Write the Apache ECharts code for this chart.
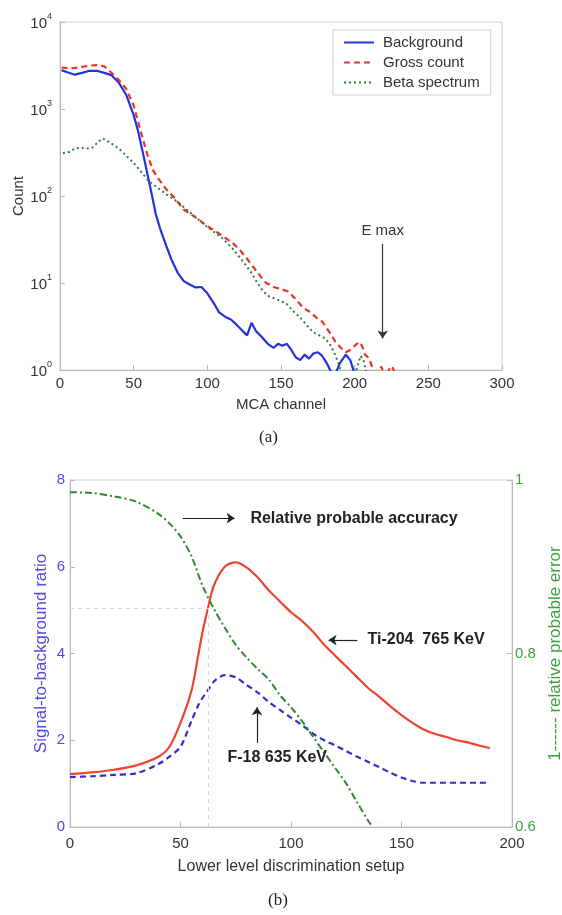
<!DOCTYPE html>
<html><head><meta charset="utf-8">
<script src="https://cdn.jsdelivr.net/npm/echarts@6/dist/echarts.min.js"></script>
<style>html,body{margin:0;padding:0;background:#fff}#c{width:562px;height:915px}</style>
</head><body><div id="c"></div><script>
// ---------- (a) MCA spectra ----------
const bgChannel = [1,5,10,15,20,25,30,35,40,45,50,53,56,59,62,65,68,72,76,80,84,88,92,96,100,104,108,112,116,120,124,127,130,133,137,141,145,148,151,154,157,160,163,166,169,172,175,178,181,184,187,190,194,197,200,202];
const bgCount = [2800,2650,2480,2600,2750,2750,2600,2450,2000,1450,850,560,330,190,110,62,42,27,18,13,10.5,9.6,8.9,9.0,7.6,6.0,4.6,4.1,3.8,3.3,2.8,2.5,3.5,2.8,2.4,2.0,1.8,2.0,1.9,2.0,1.7,1.4,1.3,1.5,1.35,1.55,1.6,1.45,1.2,0.95,0.9,1.2,1.5,1.3,0.9,0.7];
const grossChannel = [1,5,10,15,20,25,30,34,40,45,50,54,59,63,66,72,77,84,90,95,100,105,110,117,122,126,131,136,140,145,150,155,160,165,170,174,178,183,187,190,194,197,200,203,205,207,209,211,213,216,218,220,222,224,226,228];
const grossCount = [3000,2950,2950,3050,3150,3200,3100,2700,2150,1700,1100,620,310,200,165,120,98,70,60,52,45,40,35,29,24,20,15.4,12,10,9,8.5,8,6.5,5.2,4.6,4.0,3.6,2.7,2.1,1.85,1.6,1.7,1.9,2.1,1.9,1.5,1.4,1.2,0.9,0.8,1.1,0.9,0.8,1.1,1.05,0.8];
const betaChannel = [2,6,10,14,18,22,26,29,32,36,40,45,50,55,60,66,72,80,88,95,100,110,117,125,130,134,138,142,146,150,154,158,163,168,172,176,180,183,186,189,191,195,199,202,204,206,208,210];
const betaCount = [310,320,350,360,350,360,420,460,430,390,350,290,240,190,150,125,105,85,65,52,44,33,25,17,13,10,8,7,6.6,6.2,5.7,4.8,4.0,3.2,2.7,2.5,2.3,2.0,1.6,1.2,0.9,0.7,0.8,1.1,1.45,1.3,0.9,0.7];

// ---------- (b) discrimination setup ----------
const lldSetup = [0,10,20,30,40,45,50,55,58,60,62,65,70,75,80,85,90,95,100,105,110,115,120,125,130,135,140,145,150,155,160,165,170,175,180,185,190];
const tiRatio = [1.22,1.26,1.32,1.42,1.62,1.85,2.4,3.15,3.95,4.5,4.95,5.55,6.0,6.1,5.98,5.75,5.45,5.2,4.95,4.75,4.5,4.2,3.95,3.7,3.45,3.2,3.0,2.78,2.58,2.4,2.25,2.15,2.08,2.0,1.95,1.88,1.82];
const fRatio = [1.15,1.17,1.2,1.24,1.45,1.62,1.85,2.45,2.8,2.98,3.12,3.35,3.5,3.45,3.27,3.1,2.88,2.7,2.52,2.35,2.15,2.0,1.88,1.75,1.62,1.5,1.38,1.25,1.14,1.06,1.02,1.02,1.02,1.02,1.02,1.02,1.02];
const accSetup = [0,10,20,30,40,45,50,55,60,65,70,75,80,85,90,95,100,105,110,115,120,125,130,135,137];
const accuracy = [0.986,0.985,0.981,0.975,0.961,0.95,0.935,0.912,0.878,0.852,0.83,0.81,0.795,0.782,0.77,0.752,0.738,0.722,0.704,0.686,0.668,0.65,0.628,0.607,0.6];

const pairs = (xs, ys) => xs.map((x, i) => [x, ys[i]]);

const font = 'Liberation Sans, Arial, sans-serif';
const axisGray = '#b8b8b8';
const txt = '#333';
const bBlue = '#4b4be0';
const bGreen = '#3f9f3f';

const chart = echarts.init(document.getElementById('c'), null, {renderer: 'canvas'});
chart.setOption({
  animation: false,
  textStyle: {fontFamily: font},
  grid: [
    {left: 60, top: 22, width: 442, height: 348, show: true, borderColor: '#d0d0d0', borderWidth: 1, outerBoundsMode: 'none', containLabel: false},
    {left: 70, top: 480, width: 442, height: 347, show: true, borderColor: '#d0d0d0', borderWidth: 1, outerBoundsMode: 'none', containLabel: false}
  ],
  legend: {
    data: ['Background', 'Gross count', 'Beta spectrum'],
    orient: 'vertical', left: 333, top: 30,
    itemWidth: 30, itemHeight: 10, itemGap: 5,
    itemStyle: {opacity: 0},
    borderColor: '#cfcfcf', borderWidth: 1, padding: [5, 11, 5, 10],
    backgroundColor: '#fff',
    textStyle: {fontSize: 15, color: txt, fontFamily: font, padding: [0, 0, 0, 4]}
  },
  xAxis: [
    {gridIndex: 0, type: 'value', min: 0, max: 300, interval: 50,
     name: 'MCA channel', nameLocation: 'middle', nameGap: 27, nameMoveOverlap: false,
     nameTextStyle: {fontSize: 15, color: txt},
     axisLine: {lineStyle: {color: axisGray}}, axisTick: {inside: true, lineStyle: {color: axisGray}},
     axisLabel: {fontSize: 15, color: txt, margin: 6}, splitLine: {show: false}},
    {gridIndex: 1, type: 'value', min: 0, max: 200, interval: 50,
     name: 'Lower level discrimination setup', nameLocation: 'middle', nameGap: 32, nameMoveOverlap: false,
     nameTextStyle: {fontSize: 16, color: txt},
     axisLine: {lineStyle: {color: axisGray}}, axisTick: {inside: true, lineStyle: {color: axisGray}},
     axisLabel: {fontSize: 15, color: txt, margin: 9}, splitLine: {show: false}}
  ],
  yAxis: [
    {gridIndex: 0, type: 'log', logBase: 10, min: 1, max: 10000,
     name: 'Count', nameLocation: 'middle', nameGap: 34, nameRotate: 90, nameMoveOverlap: false,
     nameTextStyle: {fontSize: 15, color: txt},
     axisLine: {show: true, lineStyle: {color: axisGray}}, axisTick: {show: true, inside: true, lineStyle: {color: axisGray}},
     minorTick: {show: false}, splitLine: {show: false},
     axisLabel: {margin: 8, color: txt,
       formatter: v => '{b|10}{s|' + Math.round(Math.log10(v)) + '}',
       rich: {b: {fontSize: 15, color: txt, fontFamily: font, verticalAlign: 'bottom'},
              s: {fontSize: 9, color: txt, fontFamily: font, verticalAlign: 'top', padding: [0, 0, 10, 0]}}}},
    {gridIndex: 1, type: 'value', min: 0, max: 8, interval: 2, position: 'left',
     name: 'Signal-to-background ratio', nameLocation: 'middle', nameGap: 20, nameRotate: 90, nameMoveOverlap: false,
     nameTextStyle: {fontSize: 17, color: bBlue},
     axisLine: {show: true, lineStyle: {color: axisGray}}, axisTick: {show: true, inside: true, lineStyle: {color: axisGray}},
     axisLabel: {fontSize: 15, color: bBlue, margin: 5}, splitLine: {show: false}},
    {gridIndex: 1, type: 'value', min: 0.6, max: 1, interval: 0.2, position: 'right',
     name: '1------ relative probable error', nameLocation: 'middle', nameGap: 35, nameRotate: 90, nameMoveOverlap: false,
     nameTextStyle: {fontSize: 17, color: bGreen},
     axisLine: {show: true, lineStyle: {color: axisGray}}, axisTick: {show: true, inside: true, lineStyle: {color: axisGray}},
     axisLabel: {fontSize: 15, color: bGreen, margin: 3, formatter: v => (Math.abs(v - 1) < 1e-9 ? '1' : v.toFixed(1))},
     splitLine: {show: false}}
  ],
  series: [
    {name: 'Background', type: 'line', xAxisIndex: 0, yAxisIndex: 0, showSymbol: false, symbol: 'none',
     data: pairs(bgChannel, bgCount), lineStyle: {color: '#2233dd', width: 2.2}, itemStyle: {color: '#2233dd'}},
    {name: 'Gross count', type: 'line', xAxisIndex: 0, yAxisIndex: 0, showSymbol: false, symbol: 'none',
     data: pairs(grossChannel, grossCount), lineStyle: {color: '#e8342a', width: 2.2, type: [6, 4]}, itemStyle: {color: '#e8342a'},
     markLine: {silent: true, symbol: ['none', 'arrow'], symbolSize: 8,
       lineStyle: {color: '#333', width: 1.2, type: 'solid'},
       label: {show: true, position: 'start', formatter: 'E max', fontSize: 15, color: txt, distance: 6},
       data: [[{coord: [219, 28]}, {coord: [219, 2.3]}]]}},
    {name: 'Beta spectrum', type: 'line', xAxisIndex: 0, yAxisIndex: 0, showSymbol: false, symbol: 'none',
     data: pairs(betaChannel, betaCount), lineStyle: {color: '#2f7f3f', width: 2, type: [2, 3]}, itemStyle: {color: '#2f7f3f'}},

    {name: 'Ti-204', type: 'line', xAxisIndex: 1, yAxisIndex: 1, showSymbol: false, symbol: 'none', smooth: 0.3,
     data: pairs(lldSetup, tiRatio), lineStyle: {color: '#ee4430', width: 2.2},
     markLine: {silent: true, symbolSize: 8, label: {show: false},
       data: [
         [{coord: [0, 5.05], symbol: 'none', lineStyle: {color: '#d4d4d4', width: 1, type: [4, 4]}}, {coord: [62.5, 5.05], symbol: 'none'}],
         [{coord: [62.5, 0], symbol: 'none', lineStyle: {color: '#d4d4d4', width: 1, type: [4, 4]}}, {coord: [62.5, 5.05], symbol: 'none'}],
         [{coord: [51, 7.12], symbol: 'none', lineStyle: {color: '#222', width: 1.2, type: 'solid'}}, {coord: [74.5, 7.12], symbol: 'arrow'}],
         [{coord: [130, 4.31], symbol: 'none', lineStyle: {color: '#222', width: 1.2, type: 'solid'}}, {coord: [117, 4.31], symbol: 'arrow'}],
         [{coord: [84.6, 1.94], symbol: 'none', lineStyle: {color: '#222', width: 1.2, type: 'solid'}}, {coord: [84.6, 2.76], symbol: 'arrow'}]
       ]},
     markPoint: {silent: true, symbol: 'circle', symbolSize: 1, itemStyle: {color: 'rgba(0,0,0,0)'},
       label: {show: true, position: 'right', distance: 0, fontSize: 16, fontWeight: 'bold', color: '#222', fontFamily: font},
       data: [
         {coord: [81.4, 7.12], label: {formatter: 'Relative probable accuracy'}},
         {coord: [134.4, 4.31], label: {formatter: 'Ti-204  765 KeV'}},
         {coord: [71, 1.61], label: {formatter: 'F-18 635 KeV'}}
       ]}},
    {name: 'F-18', type: 'line', xAxisIndex: 1, yAxisIndex: 1, showSymbol: false, symbol: 'none', smooth: 0.3,
     data: pairs(lldSetup, fRatio), lineStyle: {color: '#3030c8', width: 2.2, type: [6, 4]}},
    {name: 'Accuracy', type: 'line', xAxisIndex: 1, yAxisIndex: 2, showSymbol: false, symbol: 'none', smooth: 0.3,
     data: pairs(accSetup, accuracy), lineStyle: {color: '#2e8b2e', width: 2, type: [7, 3, 2, 3]}}
  ],
  graphic: [
    {type: 'text', left: 259, top: 429, style: {text: '(a)', fontSize: 17, fontFamily: 'Liberation Serif, Times New Roman, serif', fill: '#222'}},
    {type: 'text', left: 268, top: 892, style: {text: '(b)', fontSize: 17, fontFamily: 'Liberation Serif, Times New Roman, serif', fill: '#222'}}
  ]
});
</script></body></html>
